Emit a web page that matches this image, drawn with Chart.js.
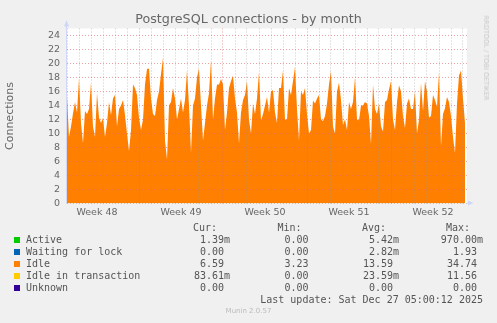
<!DOCTYPE html>
<html>
<head>
<meta charset="utf-8">
<script src="https://cdn.jsdelivr.net/npm/chart.js@4/dist/chart.umd.min.js"></script>
<style>
  html, body { margin: 0; padding: 0; background: #f0f0f0; }
  #wrap { position: relative; width: 497px; height: 323px; overflow: hidden; font-family: "DejaVu Sans", sans-serif; color: #666; }
  #wrap canvas { position: absolute; left: 0; top: 0; }
  .t { position: absolute; white-space: pre; }
  .mono { font-family: "DejaVu Sans Mono", monospace; font-size: 10px; line-height: 12px; color: #555; }
  .sq { position: absolute; width: 6px; height: 6px; }
</style>
</head>
<body>
<div id="wrap">
  <canvas id="munin" width="497" height="323"></canvas>
  <div class="t" id="title" style="left:0;width:497px;top:11px;text-align:center;font-size:12.7px;line-height:15px;color:#666;">PostgreSQL connections - by month</div>
  <div class="t" style="left:486px;top:58px;transform:translate(-50%,-50%) rotate(90deg);font-size:6.6px;color:#c8c8c8;">RRDTOOL / TOBI OETIKER</div>
  <div class="t" style="left:0;width:497px;top:307px;text-align:center;font-size:7px;line-height:9px;color:#bbb;">Munin 2.0.57</div>
</div>
<script>
// ---------- Data ----------
// Idle connections, one sample every 4 hours over the month window
const STEP_HOURS = 4;
const idle = [
  15.4, 9.5, 11, 12.9, 14.5, 13, 17.9, 11.5, 8.6, 13.2,
  12.8, 13.5, 17.2, 11, 9.5, 15.8, 12.3, 11.5, 12.2, 9.5,
  11.5, 14.5, 12.6, 15, 15.5, 11, 13.5, 14, 14.8, 12.6,
  10, 7.5, 10.5, 17, 16.5, 15.5, 12.2, 10.5, 12, 17,
  19.2, 19.3, 15, 12.8, 12.5, 14.8, 16, 18.5, 20.8, 9,
  6.3, 14, 14.5, 16.5, 15, 12, 13.5, 15, 13, 14.8,
  19, 14, 7.3, 14, 15, 18, 19.3, 14, 9, 11.5,
  14, 15.8, 20.5, 12, 15, 17, 17, 17.8, 17, 10.5,
  13, 16.5, 17.5, 18.3, 15, 13, 8.6, 13, 14.8, 15.5,
  17.5, 12, 10, 14.3, 12.8, 15, 18.8, 11.9, 12.8, 14,
  15.2, 13, 16, 16.2, 13, 11.5, 16.5, 16.5, 19, 12,
  12, 16.5, 15.5, 17.5, 19.5, 13.5, 9, 16, 15.5, 16.5,
  12.8, 10, 10.5, 14.7, 14.3, 15, 15.5, 12, 11.8, 12.5,
  14.3, 17, 19, 11, 10, 16, 17.3, 14.8, 11.2, 12,
  10.5, 14.5, 13.5, 14.5, 18, 12, 11.9, 14, 14, 14.5,
  14.3, 12.5, 8.5, 17, 13.5, 12.8, 14.3, 11, 10.3, 14.5,
  14.8, 16.3, 17.5, 12, 10.5, 14.5, 16.9, 16, 12.5, 10.8,
  14.3, 15, 13.5, 13.5, 16, 10, 12, 17.2, 13.2, 17.5,
  16, 12.3, 12.5, 15.5, 14.8, 13.8, 18.8, 8.2, 12.8, 13.6,
  15.2, 14.5, 12.5, 9.5, 7.2, 14.3, 18.3, 19, 15, 11.5
];

// week labels and the day (from window start) each week begins
const weekLabels = ["Week 48", "Week 49", "Week 50", "Week 51", "Week 52"];
const weekStartDay = [-1, 6, 13, 20, 27];
const windowDays = 400 / 12;

// legend table
const legendNames = ["Active", "Waiting for lock", "Idle", "Idle in transaction", "Unknown"];
const legendColors = ["#00cc00", "#0066b3", "#ff8000", "#ffcc00", "#330099"];
const curVals = ["1.39m", "0.00", "6.59", "83.61m", "0.00"];
const minVals = ["0.00", "0.00", "3.23", "0.00", "0.00"];
const avgVals = ["5.42m", "2.82m", "13.59", "23.59m", "0.00"];
const maxVals = ["970.00m", "1.93", "34.74", "11.56", "0.00"];
const lastUpdate = "Last update: Sat Dec 27 05:00:12 2025";

// ---------- Legend ----------
const wrap = document.getElementById("wrap");
function addText(txt, right, top, cls) {
  const d = document.createElement("div");
  d.className = "t " + cls;
  d.style.right = (497 - right) + "px";
  d.style.top = top + "px";
  d.style.textAlign = "right";
  d.textContent = txt;
  wrap.appendChild(d);
}
function pad(v) { return /[a-z]$/.test(v) ? v : v + " "; }

const colRight = [230, 314.5, 399, 483];
["Cur:", "Min:", "Avg:", "Max:"].forEach((h, k) => addText(h, colRight[k] - 13, 221.5, "mono"));
legendNames.forEach((name, r) => {
  const top = 233.5 + r * 12;
  const sq = document.createElement("div");
  sq.className = "sq";
  sq.style.left = "14px";
  sq.style.top = (top + 3) + "px";
  sq.style.background = legendColors[r];
  wrap.appendChild(sq);
  const lab = document.createElement("div");
  lab.className = "t mono";
  lab.style.left = "26px";
  lab.style.top = top + "px";
  lab.textContent = name;
  wrap.appendChild(lab);
  [curVals, minVals, avgVals, maxVals].forEach((arr, k) => addText(pad(arr[r]), colRight[k], top, "mono"));
});
addText(lastUpdate, 483, 293.5, "mono");

// ---------- Chart ----------
const AXIS = "#cfd6f8";
const GRID = "rgba(150,150,150,0.5)";
const MGRID = "rgba(225,100,100,0.6)";

const canvasBg = {
  id: "canvasBg",
  beforeDraw(chart) {
    const { ctx, chartArea: a } = chart;
    ctx.save();
    ctx.fillStyle = "#ffffff";
    ctx.fillRect(a.left, a.top, a.right - a.left, a.bottom - a.top);
    ctx.restore();
  },
  afterDraw(chart) {
    const { ctx, chartArea: a } = chart;
    ctx.save();
    ctx.strokeStyle = AXIS;
    ctx.fillStyle = AXIS;
    ctx.lineWidth = 1;
    ctx.beginPath();
    ctx.moveTo(a.left - 0.5, a.bottom);
    ctx.lineTo(a.left - 0.5, a.top - 3);
    ctx.stroke();
    ctx.beginPath();
    ctx.moveTo(a.left - 3, a.top - 2);
    ctx.lineTo(a.left + 2, a.top - 2);
    ctx.lineTo(a.left - 0.5, a.top - 8.5);
    ctx.fill();
    ctx.beginPath();
    ctx.moveTo(a.right, a.bottom - 0.5);
    ctx.lineTo(a.right + 1.5, a.bottom - 0.5);
    ctx.stroke();
    ctx.beginPath();
    ctx.moveTo(a.right + 1, a.bottom - 3);
    ctx.lineTo(a.right + 1, a.bottom + 2);
    ctx.lineTo(a.right + 6.5, a.bottom - 0.5);
    ctx.fill();
    ctx.restore();
  }
};

new Chart(document.getElementById("munin"), {
  type: "line",
  data: {
    datasets: [{
      label: "Idle",
      data: idle.map((v, i) => ({ x: (i * STEP_HOURS) / 24, y: v })),
      backgroundColor: "#ff8000",
      borderColor: "#ff8000",
      borderWidth: 0,
      fill: "origin",
      pointRadius: 0,
      tension: 0,
    }],
  },
  options: {
    responsive: false,
    animation: false,
    events: [],
    layout: { padding: { left: 0, right: 30, top: 28.5, bottom: 0 } },
    plugins: { legend: { display: false }, title: { display: false }, tooltip: { enabled: false } },
    scales: {
      x: {
        type: "linear",
        min: 0,
        max: windowDays,
        afterFit: (s) => { s.height = 119.5; },
        afterBuildTicks: (s) => {
          const t = [];
          for (let v = 0; v <= 33; v += 0.5) t.push({ value: v });
          s.ticks = t;
        },
        ticks: {
          autoSkip: false,
          maxRotation: 0,
          padding: 3,
          color: "#666",
          font: { family: "DejaVu Sans", size: 9.5 },
          callback: (v) => {
            const k = weekStartDay.findIndex((d) => d + 3.5 === v);
            return k >= 0 ? weekLabels[k] : "";
          },
        },
        grid: {
          z: 1,
          drawTicks: false,
          color: (c) => {
            const v = c.tick.value;
            if (v % 1 !== 0) return "rgba(0,0,0,0)";
            return weekStartDay.includes(v) ? MGRID : GRID;
          },
        },
        border: { display: false, dash: [1, 2] },
      },
      y: {
        min: 0,
        max: 25,
        afterFit: (s) => { s.width = 67; },
        ticks: {
          stepSize: 1,
          padding: 7,
          color: "#666",
          font: { family: "DejaVu Sans", size: 9.5 },
          callback: (v) => (v % 2 === 0 && v < 25 ? v : ""),
        },
        title: {
          display: true,
          text: "Connections",
          color: "#666",
          font: { family: "DejaVu Sans", size: 11 },
          padding: { top: 4, bottom: 0 },
        },
        grid: {
          z: 1,
          drawTicks: false,
          color: (c) => (c.tick.value % 2 === 0 && c.tick.value > 0 ? MGRID : GRID),
        },
        border: { display: false, dash: [1, 2] },
      },
    },
  },
  plugins: [canvasBg],
});
</script>
</body>
</html>
